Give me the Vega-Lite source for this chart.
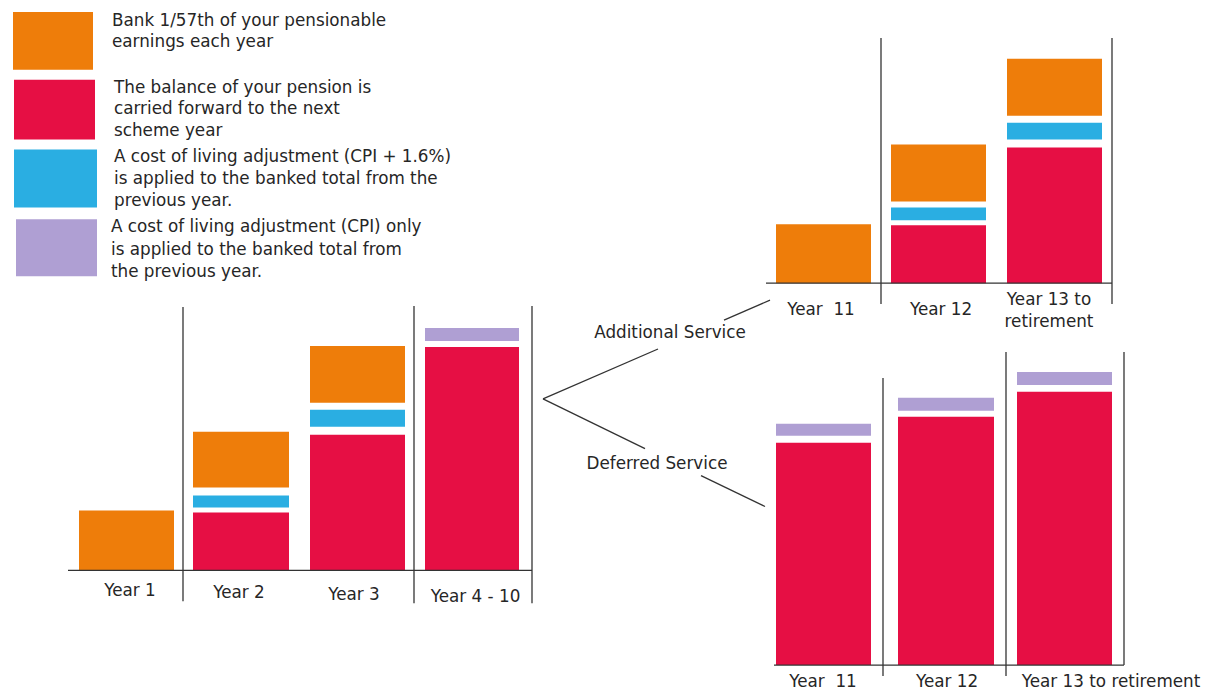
{
  "$schema": "https://vega.github.io/schema/vega-lite/v6.json",
  "width": 1211,
  "height": 691,
  "padding": 0,
  "autosize": {"type": "fit", "contains": "padding"},
  "background": "white",
  "config": {"view": {"stroke": null}},
  "layer": [
    {
      "data": {"values": [
        {"x0": 13, "x1": 93, "y0": 12, "y1": 70, "cat": "bank"},
        {"x0": 14, "x1": 95, "y0": 80, "y1": 140, "cat": "balance"},
        {"x0": 14, "x1": 97, "y0": 150, "y1": 208, "cat": "cpi16"},
        {"x0": 16, "x1": 97, "y0": 220, "y1": 277, "cat": "cpi"},
        {"x0": 79, "x1": 174, "y0": 512, "y1": 572, "cat": "bank"},
        {"x0": 193, "x1": 289, "y0": 514, "y1": 572, "cat": "balance"},
        {"x0": 193, "x1": 289, "y0": 497, "y1": 509, "cat": "cpi16"},
        {"x0": 193, "x1": 289, "y0": 433, "y1": 489, "cat": "bank"},
        {"x0": 310, "x1": 405, "y0": 436, "y1": 572, "cat": "balance"},
        {"x0": 310, "x1": 405, "y0": 411, "y1": 428, "cat": "cpi16"},
        {"x0": 310, "x1": 405, "y0": 347, "y1": 404, "cat": "bank"},
        {"x0": 425, "x1": 519, "y0": 348, "y1": 572, "cat": "balance"},
        {"x0": 425, "x1": 519, "y0": 329, "y1": 342, "cat": "cpi"},
        {"x0": 776, "x1": 871, "y0": 225, "y1": 284, "cat": "bank"},
        {"x0": 891, "x1": 986, "y0": 145, "y1": 202, "cat": "bank"},
        {"x0": 891, "x1": 986, "y0": 208, "y1": 221, "cat": "cpi16"},
        {"x0": 891, "x1": 986, "y0": 226, "y1": 284, "cat": "balance"},
        {"x0": 1007, "x1": 1102, "y0": 59, "y1": 116, "cat": "bank"},
        {"x0": 1007, "x1": 1102, "y0": 123, "y1": 140, "cat": "cpi16"},
        {"x0": 1007, "x1": 1102, "y0": 148, "y1": 284, "cat": "balance"},
        {"x0": 776, "x1": 871, "y0": 444, "y1": 667, "cat": "balance"},
        {"x0": 776, "x1": 871, "y0": 425, "y1": 437, "cat": "cpi"},
        {"x0": 898, "x1": 994, "y0": 418, "y1": 667, "cat": "balance"},
        {"x0": 898, "x1": 994, "y0": 399, "y1": 412, "cat": "cpi"},
        {"x0": 1017, "x1": 1112, "y0": 393, "y1": 667, "cat": "balance"},
        {"x0": 1017, "x1": 1112, "y0": 373, "y1": 386, "cat": "cpi"}
      ]},
      "mark": {"type": "rect"},
      "encoding": {
        "x": {"field": "x0", "type": "quantitative", "axis": null, "scale": {"domain": [0, 1211], "nice": false, "zero": false}},
        "x2": {"field": "x1"},
        "y": {"field": "y0", "type": "quantitative", "axis": null, "scale": {"domain": [0, 691], "nice": false, "zero": false, "reverse": true}},
        "y2": {"field": "y1"},
        "color": {"field": "cat", "type": "nominal", "legend": null,
          "scale": {"domain": ["bank", "balance", "cpi16", "cpi"], "range": ["#EE7D0A", "#E60F44", "#2AAEE2", "#AF9FD3"]}}
      }
    },
    {
      "data": {"values": [
        {"x0": 68, "y0": 572, "x1": 532, "y1": 572},
        {"x0": 183, "y0": 308, "x1": 183, "y1": 603},
        {"x0": 414, "y0": 307, "x1": 414, "y1": 605},
        {"x0": 532, "y0": 307, "x1": 532, "y1": 605},
        {"x0": 766, "y0": 284, "x1": 1112, "y1": 284},
        {"x0": 881, "y0": 38, "x1": 881, "y1": 305},
        {"x0": 1112, "y0": 38, "x1": 1112, "y1": 305},
        {"x0": 774, "y0": 667, "x1": 1124, "y1": 667},
        {"x0": 883, "y0": 379, "x1": 883, "y1": 678},
        {"x0": 1006, "y0": 353, "x1": 1006, "y1": 678},
        {"x0": 1124, "y0": 353, "x1": 1124, "y1": 667},
        {"x0": 543, "y0": 400, "x1": 658, "y1": 350},
        {"x0": 724, "y0": 321, "x1": 770, "y1": 301},
        {"x0": 543, "y0": 400, "x1": 645, "y1": 450},
        {"x0": 701, "y0": 477, "x1": 765, "y1": 508}
      ]},
      "mark": {"type": "rule", "color": "#333333", "strokeWidth": 1.3},
      "encoding": {
        "x": {"field": "x0", "type": "quantitative", "axis": null},
        "x2": {"field": "x1"},
        "y": {"field": "y0", "type": "quantitative", "axis": null},
        "y2": {"field": "y1"}
      }
    },
    {
      "data": {"values": [
        {"x": 112, "y": 26, "t": "Bank 1/57th of your pensionable"},
        {"x": 112, "y": 47.5, "t": "earnings each year"},
        {"x": 114, "y": 93, "t": "The balance of your pension is"},
        {"x": 114, "y": 114.5, "t": "carried forward to the next"},
        {"x": 114, "y": 136.5, "t": "scheme year"},
        {"x": 114, "y": 162.5, "t": "A cost of living adjustment (CPI + 1.6%)"},
        {"x": 114, "y": 185, "t": "is applied to the banked total from the"},
        {"x": 114, "y": 206.5, "t": "previous year."},
        {"x": 111, "y": 233, "t": "A cost of living adjustment (CPI) only"},
        {"x": 111, "y": 256, "t": "is applied to the banked total from"},
        {"x": 111, "y": 278, "t": "the previous year."}
      ]},
      "mark": {"type": "text", "align": "left", "baseline": "alphabetic", "font": "DejaVu Sans", "fontSize": 16.8, "color": "#262626"},
      "encoding": {
        "x": {"field": "x", "type": "quantitative", "axis": null},
        "y": {"field": "y", "type": "quantitative", "axis": null},
        "text": {"field": "t"}
      }
    },
    {
      "data": {"values": [
        {"x": 130, "y": 598, "t": "Year 1"},
        {"x": 239, "y": 600, "t": "Year 2"},
        {"x": 354, "y": 601.5, "t": "Year 3"},
        {"x": 475.5, "y": 604, "t": "Year 4 - 10"},
        {"x": 821, "y": 316, "t": "Year \u00a011"},
        {"x": 941, "y": 316, "t": "Year 12"},
        {"x": 1049, "y": 306, "t": "Year 13 to"},
        {"x": 1049, "y": 328, "t": "retirement"},
        {"x": 670, "y": 339, "t": "Additional Service"},
        {"x": 657, "y": 470, "t": "Deferred Service"},
        {"x": 823, "y": 689, "t": "Year \u00a011"},
        {"x": 947, "y": 689, "t": "Year 12"},
        {"x": 1111, "y": 689, "t": "Year 13 to retirement"}
      ]},
      "mark": {"type": "text", "align": "center", "baseline": "alphabetic", "font": "DejaVu Sans", "fontSize": 16.8, "color": "#262626"},
      "encoding": {
        "x": {"field": "x", "type": "quantitative", "axis": null},
        "y": {"field": "y", "type": "quantitative", "axis": null},
        "text": {"field": "t"}
      }
    }
  ]
}
